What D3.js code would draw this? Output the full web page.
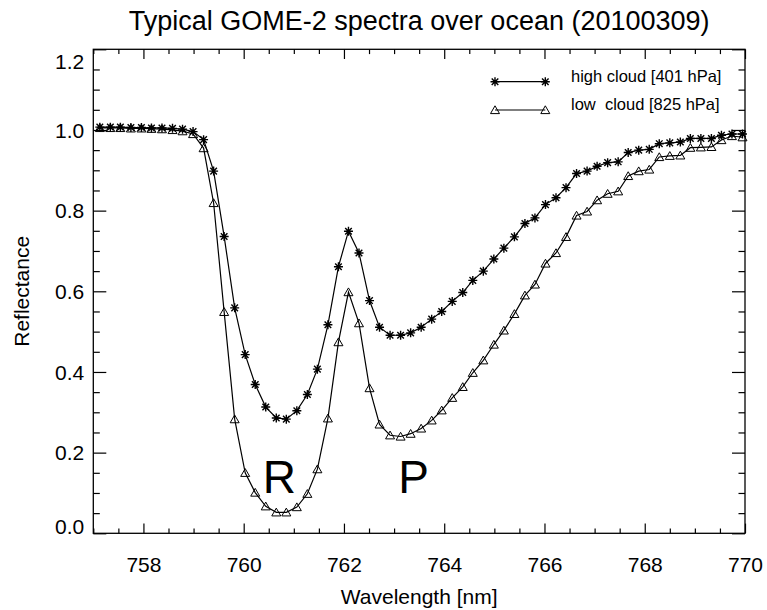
<!DOCTYPE html>
<html>
<head>
<meta charset="utf-8">
<script src="https://cdn.jsdelivr.net/npm/d3@7"></script>
<style>
    body { margin: 0; background: #fff; }
    text { font-family: "Liberation Sans", Arial, Helvetica, sans-serif; fill: #000; }
    .frame { fill: none; stroke: #000; stroke-width: 1.3; }
    .axis path.domain { stroke: none; }
    .axis line { stroke: #000; stroke-width: 1.2; }
    .line { fill: none; stroke: #000; stroke-width: 1.2; }
    .marker { fill: none; stroke: #000; stroke-width: 1; }
    .marker.star { stroke-width: 1.4; }
</style>
</head>
<body>
<div class="container"></div>
<script>
const WIDTH = 767;
const HEIGHT = 610;
const LEFT = 93.3;
const RIGHT = 745;
const TOP = 49.3;
const BOTTOM = 533.3;

// wavelength grid [nm]
var wavelength = [757.13, 757.34, 757.54, 757.75, 757.96, 758.16, 758.37, 758.58, 758.78, 758.99,
    759.20, 759.40, 759.61, 759.82, 760.03, 760.23, 760.44, 760.65, 760.85, 761.06,
    761.27, 761.47, 761.68, 761.89, 762.09, 762.30, 762.51, 762.71, 762.92, 763.13,
    763.33, 763.54, 763.75, 763.95, 764.16, 764.37, 764.57, 764.78, 764.99, 765.19,
    765.40, 765.61, 765.81, 766.02, 766.23, 766.43, 766.64, 766.85, 767.05, 767.26,
    767.47, 767.67, 767.88, 768.09, 768.29, 768.50, 768.71, 768.91, 769.12, 769.33,
    769.53, 769.74, 769.95];

var highCloud = [1.007, 1.007, 1.007, 1.006, 1.006, 1.005, 1.005, 1.004, 1.002, 0.996,
    0.976, 0.898, 0.736, 0.559, 0.443, 0.369, 0.313, 0.286, 0.283, 0.304,
    0.344, 0.407, 0.517, 0.661, 0.749, 0.695, 0.577, 0.511, 0.491, 0.491,
    0.497, 0.511, 0.531, 0.550, 0.575, 0.597, 0.627, 0.650, 0.680, 0.707,
    0.735, 0.768, 0.782, 0.815, 0.832, 0.857, 0.892, 0.898, 0.910, 0.919,
    0.921, 0.944, 0.950, 0.952, 0.966, 0.968, 0.970, 0.979, 0.979, 0.979,
    0.987, 0.990, 0.990];

var lowCloud = [1.005, 1.005, 1.005, 1.004, 1.004, 1.003, 1.002, 1.000, 0.997, 0.990,
    0.955, 0.819, 0.549, 0.283, 0.150, 0.101, 0.067, 0.052, 0.052, 0.065,
    0.098, 0.159, 0.285, 0.474, 0.598, 0.521, 0.360, 0.270, 0.243, 0.240,
    0.247, 0.260, 0.280, 0.305, 0.336, 0.363, 0.398, 0.429, 0.468, 0.503,
    0.544, 0.590, 0.617, 0.669, 0.695, 0.735, 0.788, 0.798, 0.826, 0.842,
    0.848, 0.886, 0.898, 0.902, 0.933, 0.936, 0.937, 0.956, 0.957, 0.958,
    0.975, 0.985, 0.982];

var seriesNames = ["high cloud [401 hPa]", "low  cloud [825 hPa]"];
var xTicks = [758, 760, 762, 764, 766, 768, 770];
var yTicks = [0.0, 0.2, 0.4, 0.6, 0.8, 1.0, 1.2];
var bandNames = ["R", "P"];
var bandX = [760.71, 763.39];
var bandY = [0.1, 0.1];

var xScale, yScale, svg;

var STAR = "M0,-4.5V4.5M-4.5,0H4.5M-3.3,-3.3L3.3,3.3M-3.3,3.3L3.3,-3.3";
var TRIANGLE = "M-4.5,3.6L4.5,3.6L0,-4.2Z";

var translate = function(x, y){
    return "translate(" + x + "," + y + ")";
};

var generateAxis = function(){
    xScale = d3.scaleLinear().domain([757, 770]).range([LEFT, RIGHT]);
    yScale = d3.scaleLinear().domain([0, 1.2]).range([BOTTOM, TOP]);

    var xMinor = d3.range(757, 770.01, 0.5).filter(function(d){ return d % 2 != 0; });
    var yMinor = d3.range(0, 1.201, 0.05).filter(function(d){
        return Math.abs(d / 0.2 - Math.round(d / 0.2)) > 1e-6;
    });

    // bottom
    svg.append('g').attr('class', 'axis').attr('transform', translate(0, BOTTOM))
        .call(d3.axisBottom(xScale).tickValues(xTicks).tickSizeInner(-9.7).tickSizeOuter(0)
            .tickPadding(24).tickFormat(d3.format('d')))
        .selectAll('text').style('font-size', '21px');
    svg.append('g').attr('class', 'axis').attr('transform', translate(0, BOTTOM))
        .call(d3.axisBottom(xScale).tickValues(xMinor).tickSizeInner(-4.8).tickSizeOuter(0).tickFormat(''));

    // top
    svg.append('g').attr('class', 'axis').attr('transform', translate(0, TOP))
        .call(d3.axisTop(xScale).tickValues(xTicks).tickSizeInner(-9.7).tickSizeOuter(0).tickFormat(''));
    svg.append('g').attr('class', 'axis').attr('transform', translate(0, TOP))
        .call(d3.axisTop(xScale).tickValues(xMinor).tickSizeInner(-4.8).tickSizeOuter(0).tickFormat(''));

    // left
    var left = svg.append('g').attr('class', 'axis').attr('transform', translate(LEFT, 0))
        .call(d3.axisLeft(yScale).tickValues(yTicks).tickSizeInner(-13).tickSizeOuter(0)
            .tickPadding(9).tickFormat(d3.format('.1f')));
    left.selectAll('text').style('font-size', '21px')
        .attr('dy', function(d){
            if (d == 0) return '-0.0em';
            if (d == 1.2) return '0.9em';
            return '0.35em';
        });
    svg.append('g').attr('class', 'axis').attr('transform', translate(LEFT, 0))
        .call(d3.axisLeft(yScale).tickValues(yMinor).tickSizeInner(-6.5).tickSizeOuter(0).tickFormat(''));

    // right
    svg.append('g').attr('class', 'axis').attr('transform', translate(RIGHT, 0))
        .call(d3.axisRight(yScale).tickValues(yTicks).tickSizeInner(-13).tickSizeOuter(0).tickFormat(''));
    svg.append('g').attr('class', 'axis').attr('transform', translate(RIGHT, 0))
        .call(d3.axisRight(yScale).tickValues(yMinor).tickSizeInner(-6.5).tickSizeOuter(0).tickFormat(''));

    svg.append('rect').attr('class', 'frame')
        .attr('x', LEFT).attr('y', TOP)
        .attr('width', RIGHT - LEFT).attr('height', BOTTOM - TOP);
};

var drawSeries = function(values, shape, kind){
    var line = d3.line()
        .x(function(d, i){ return xScale(wavelength[i]); })
        .y(function(d){ return yScale(d); });

    svg.append('path').attr('class', 'line').attr('d', line(values));

    svg.append('g').selectAll('path')
        .data(values)
        .enter()
        .append('path')
        .attr('class', 'marker ' + kind)
        .attr('transform', function(d, i){ return translate(xScale(wavelength[i]), yScale(d)); })
        .attr('d', shape);
};

var drawLegend = function(){
    var shapes = [STAR, TRIANGLE];
    var kinds = ['star', 'tri'];
    var rows = [81.7, 110];
    for (var i = 0; i < seriesNames.length; i++) {
        var g = svg.append('g').attr('transform', translate(0, rows[i]));
        g.append('line').attr('x1', 495).attr('x2', 545.3).attr('y1', 0).attr('y2', 0)
            .attr('stroke', '#000').attr('stroke-width', 1.2);
        g.selectAll('path.marker').data([495, 545.3]).enter().append('path')
            .attr('class', 'marker ' + kinds[i])
            .attr('transform', function(d){ return translate(d, 0); })
            .attr('d', shapes[i]);
        g.append('text').attr('x', 571).attr('y', 0)
            .attr('xml:space', 'preserve')
            .style('white-space', 'pre')
            .style('font-size', '16.5px')
            .text(seriesNames[i]);
    }
};

var drawLabels = function(){
    svg.append('text')
        .attr('x', (LEFT + RIGHT) / 2).attr('y', 30)
        .attr('text-anchor', 'middle')
        .style('font-size', '27px')
        .text('Typical GOME-2 spectra over ocean (20100309)');

    svg.append('text')
        .attr('x', (LEFT + RIGHT) / 2).attr('y', 604)
        .attr('text-anchor', 'middle')
        .style('font-size', '21px')
        .text('Wavelength [nm]');

    svg.append('text')
        .attr('transform', translate(29, (TOP + BOTTOM) / 2) + ' rotate(-90)')
        .attr('text-anchor', 'middle')
        .style('font-size', '21px')
        .text('Reflectance');

    svg.append('g').selectAll('text')
        .data(bandNames)
        .enter()
        .append('text')
        .attr('x', function(d, i){ return xScale(bandX[i]); })
        .attr('y', function(d, i){ return yScale(bandY[i]); })
        .attr('text-anchor', 'middle')
        .style('font-size', '46px')
        .text(function(d){ return d; });
};

var generateChart = function(){
    svg = d3.select('.container').append('svg')
        .attr('width', WIDTH)
        .attr('height', HEIGHT);

    svg.append('rect').attr('width', WIDTH).attr('height', HEIGHT).attr('fill', '#fff');

    generateAxis();
    drawSeries(highCloud, STAR, 'star');
    drawSeries(lowCloud, TRIANGLE, 'tri');
    drawLegend();
    drawLabels();
};

window.onload = generateChart;
</script>
</body>
</html>
